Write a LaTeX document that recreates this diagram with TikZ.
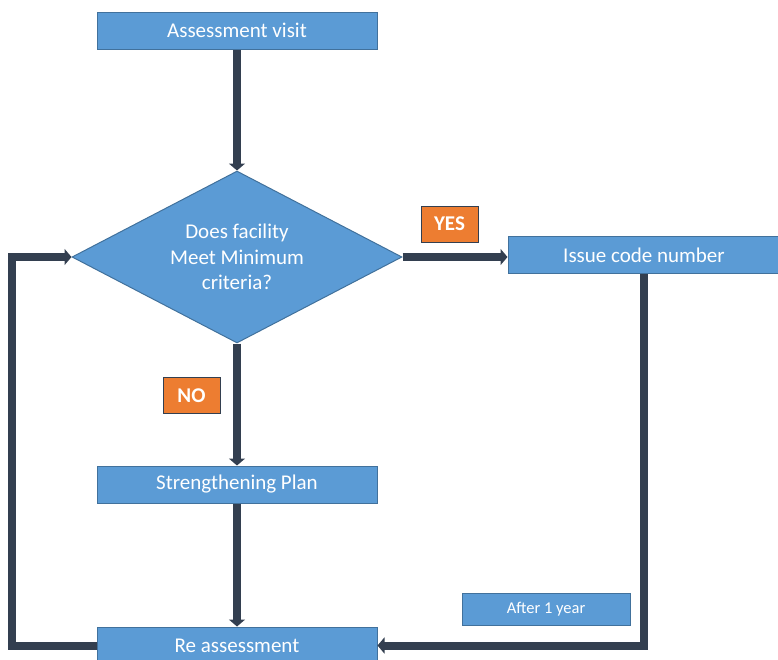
\documentclass[tikz,border=0pt]{standalone}
\usepackage{fontspec}
\setmainfont{Carlito}
\usetikzlibrary{arrows.meta, positioning, shapes.geometric}
\definecolor{boxfill}{HTML}{5B9BD5}
\definecolor{boxline}{HTML}{41719C}
\definecolor{tagfill}{HTML}{ED7D31}
\definecolor{flowline}{HTML}{333F50}

\begin{document}
\begin{tikzpicture}[
x=1pt, y=-1pt,
node distance=121pt and 105pt,
box/.style={rectangle, draw=boxline, line width=1pt, fill=boxfill, text=white, minimum width=280pt, minimum height=37pt, inner sep=0pt, font=\fontsize{21}{25}\selectfont},
decision/.style={diamond, draw=boxline, line width=1pt, fill=boxfill, text=white, aspect=1.9, inner sep=0pt, minimum width=330pt, minimum height=172pt, align=center, font=\fontsize{21}{25.5}\selectfont},
tag/.style={rectangle, draw=flowline, line width=0.8pt, fill=tagfill, text=white, minimum width=57pt, minimum height=36pt, inner sep=0pt, font=\bfseries\fontsize{21}{24}\selectfont},
flow/.style={draw=flowline, line width=8pt, -{Triangle[width=16pt, length=7pt]}}
]
\useasboundingbox (0,0) rectangle (778,659);

\node[box] (visit) at (237,30.5) {Assessment visit};
\node[decision, below=121pt of visit] (check) {Does facility\\Meet Minimum\\criteria?};
\node[box, minimum width=272pt, right=105pt of check, yshift=2pt] (code) {Issue code number};
\node[box, below=122pt of check] (plan) {Strengthening Plan};
\node[box, below=123pt of plan] (reassess) {Re assessment};
\node[tag] (yes) at (449.5,224) {YES};
\node[tag] (no) at (191.5,395.5) {NO};
\node[box, minimum width=168pt, minimum height=32pt, font=\fontsize{16.5}{19}\selectfont] (year) at (546,609) {After 1 year};

\draw[flow] (visit) -- (check);
\draw[flow] (check) -- (code.west |- check);
\draw[flow] (check) -- (plan);
\draw[flow] (plan) -- (reassess);
\draw[flow] (code.south) |- (reassess.east);
\draw[flow] (reassess.west) -- ++(-85,0) |- (check.west);
\end{tikzpicture}
\end{document}
